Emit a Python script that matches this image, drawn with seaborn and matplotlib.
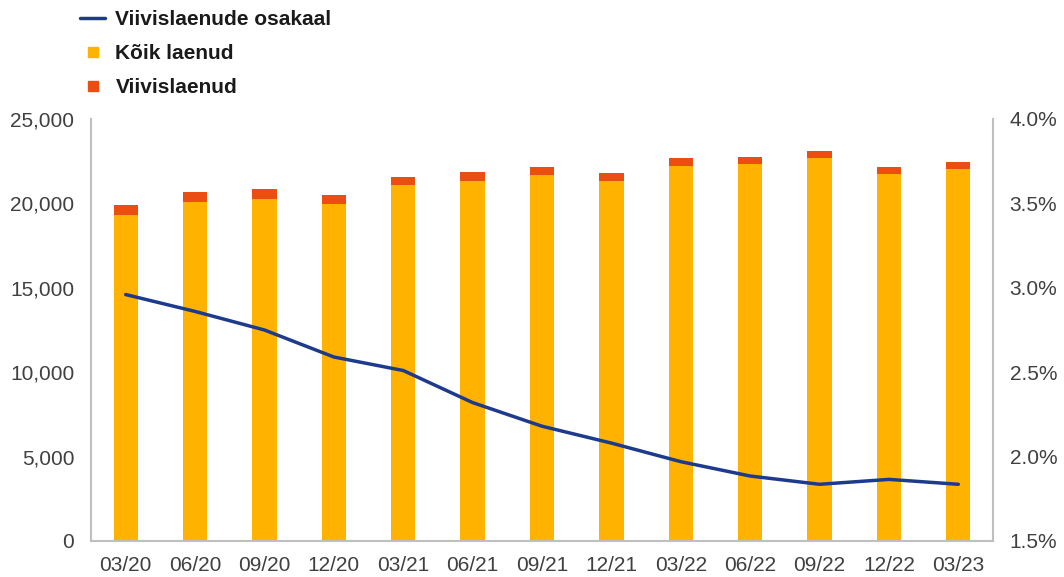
import numpy as np
import pandas as pd
import matplotlib
matplotlib.use("Agg")
import matplotlib.pyplot as plt
from matplotlib.lines import Line2D
from matplotlib.ticker import FuncFormatter
import seaborn as sns

quarters = ["03/20", "06/20", "09/20", "12/20", "03/21", "06/21", "09/21",
            "12/21", "03/22", "06/22", "09/22", "12/22", "03/23"]
koik_laenud = [19310, 20100, 20240, 19960, 21070, 21345, 21680,
               21345, 22230, 22315, 22705, 21725, 22055]
viivislaenud = [595, 595, 595, 535, 510, 535, 460,
                475, 440, 415, 415, 415, 415]
osakaal = [2.96, 2.86, 2.75, 2.59, 2.51, 2.32, 2.18,
           2.08, 1.97, 1.885, 1.836, 1.865, 1.836]

YELLOW = "#FFB300"
RED = "#EA4E12"
NAVY = "#1E3A8C"
TXT = "#404040"
SPINE = "#BFBFBF"

sns.set_theme(style="white")
plt.rcParams["font.family"] = ["Liberation Sans", "DejaVu Sans"]

df = pd.DataFrame({"q": quarters, "koik": koik_laenud, "viivis": viivislaenud})
df["total"] = df["koik"] + df["viivis"]

W, H = 1064, 577
fig = plt.figure(figsize=(W / 100, H / 100), dpi=100)
ax = fig.add_axes([91 / W, 1 - 541 / H, (993 - 91) / W, (541 - 119) / H])

sns.barplot(data=df, x="q", y="total", color=RED, saturation=1, width=0.35,
            linewidth=0, edgecolor="none", ax=ax)
sns.barplot(data=df, x="q", y="koik", color=YELLOW, saturation=1, width=0.35,
            linewidth=0, edgecolor="none", ax=ax)
ax.set_xlim(-0.5, len(quarters) - 0.5)
ax.set_ylim(0, 25000)
ax.set_yticks(np.arange(0, 25001, 5000))
ax.yaxis.set_major_formatter(FuncFormatter(lambda v, p: f"{int(v):,}"))
ax.set_xlabel("")
ax.set_ylabel("")
ax.tick_params(axis="both", length=0, labelsize=15, colors=TXT)
ax.tick_params(axis="y", pad=12)
ax.tick_params(axis="x", pad=11)
for s in ["top", "right"]:
    ax.spines[s].set_visible(False)
for s in ["bottom", "left"]:
    ax.spines[s].set_color(SPINE)
    ax.spines[s].set_linewidth(1.5)

ax2 = ax.twinx()
sns.lineplot(x=np.arange(len(quarters)), y=osakaal, color=NAVY, linewidth=2.5, ax=ax2)
ax2.set_ylim(1.5, 4.0)
ax2.set_yticks([1.5, 2.0, 2.5, 3.0, 3.5, 4.0])
ax2.yaxis.set_major_formatter(FuncFormatter(lambda v, p: f"{v:.1f}%"))
ax2.tick_params(axis="y", length=0, labelsize=15, colors=TXT, pad=12)
for s in ["top", "left", "bottom"]:
    ax2.spines[s].set_visible(False)
ax2.spines["right"].set_color(SPINE)
ax2.spines["right"].set_linewidth(1.5)
ax2.set_xlim(ax.get_xlim())

handles = [
    Line2D([0], [0], color=NAVY, linewidth=2.5),
    Line2D([0], [0], marker="s", color="none", markerfacecolor=YELLOW, markeredgecolor=YELLOW, markersize=6.5),
    Line2D([0], [0], marker="s", color="none", markerfacecolor=RED, markeredgecolor=RED, markersize=6.5),
]
labels = ["Viivislaenude osakaal", "Kõik laenud", "Viivislaenud"]
leg = fig.legend(handles, labels, loc="upper left", bbox_to_anchor=(80 / W, 1 - 10 / H),
                 frameon=False, prop={"weight": "bold", "size": 15},
                 borderpad=0, borderaxespad=0,
                 handlelength=1.2, handletextpad=0.5, labelspacing=0.72)
for t in leg.get_texts():
    t.set_color("#1a1a1a")

fig.savefig("out.png", dpi=100)
